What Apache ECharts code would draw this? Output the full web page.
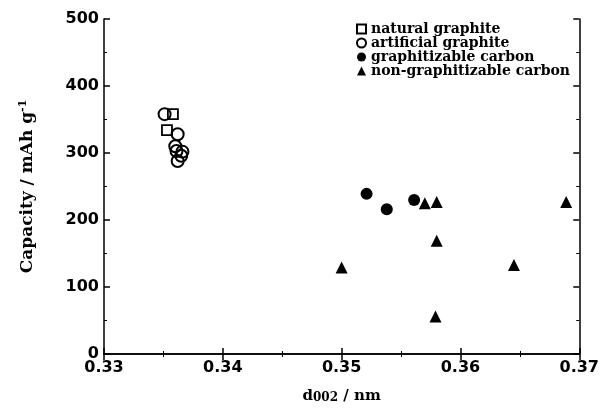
<!DOCTYPE html>
<html>
<head>
<meta charset="utf-8">
<script src="https://cdn.jsdelivr.net/npm/echarts@6/dist/echarts.min.js"></script>
<style>
  html, body { margin: 0; padding: 0; background: #fff; }
  #main { width: 602px; height: 410px; }
</style>
</head>
<body>
<div id="main"></div>
<script>
// d002 (nm) and capacity (mAh/g)
var naturalX = [0.3358, 0.3353];
var naturalY = [358, 334];
var artificialX = [0.3351, 0.3362, 0.3360, 0.3361, 0.3366, 0.3365, 0.3362];
var artificialY = [358, 328, 310, 303, 302, 296, 288];
var graphitizableX = [0.3521, 0.3538, 0.3561];
var graphitizableY = [239, 216, 230];
var nonGraphX = [0.3500, 0.3570, 0.3580, 0.3580, 0.3579, 0.3645, 0.3689];
var nonGraphY = [129, 225, 227, 169, 56, 133, 227];

var xTicks = [0.33, 0.34, 0.35, 0.36, 0.37];
var yTicks = [0, 100, 200, 300, 400, 500];

function pairs(xs, ys) {
    var out = [];
    xs.forEach(function (x, i) { out.push([x, ys[i]]); });
    return out;
}

var chart = echarts.init(document.getElementById('main'));
var labelFont = { fontFamily: 'DejaVu Sans', fontWeight: 'bold', fontSize: 16, color: '#000' };
var serif = 'DejaVu Serif';
var lineStyle = { color: '#000', width: 1.5 };
var minor = { show: true, splitNumber: 2, length: 3, lineStyle: { color: '#000', width: 1 } };

var option = {
    animation: false,
    backgroundColor: '#fff',
    grid: { left: 104, right: 22, top: 19, bottom: 56 },
    legend: {
        orient: 'vertical',
        left: 351,
        top: 17,
        itemWidth: 9,
        itemHeight: 9,
        itemGap: 0,
        textStyle: { fontFamily: serif, fontWeight: 'bold', fontSize: 14, color: '#000' },
        data: ['natural graphite', 'artificial graphite', 'graphitizable carbon', 'non-graphitizable carbon']
    },
    xAxis: [{
        type: 'value', min: 0.33, max: 0.37, interval: 0.01,
        name: 'd{s|002} / nm', nameLocation: 'middle', nameGap: 34,
        nameTextStyle: {
            fontFamily: serif, fontWeight: 'bold', fontSize: 15, color: '#000',
            rich: { s: { fontFamily: serif, fontWeight: 'bold', fontSize: 12, color: '#000', verticalAlign: 'bottom', padding: [4, 0, 0, 0] } }
        },
        axisLine: { lineStyle: lineStyle },
        axisTick: { inside: true, length: 6, lineStyle: lineStyle },
        minorTick: minor,
        splitLine: { show: false },
        axisLabel: Object.assign({ margin: 6, formatter: function (v) { return v.toFixed(2); } }, labelFont)
    }, {
        type: 'value', min: 0.33, max: 0.37, interval: 0.01, position: 'top',
        axisLine: { lineStyle: lineStyle },
        axisTick: { inside: true, length: 6, lineStyle: lineStyle },
        minorTick: minor,
        splitLine: { show: false },
        axisLabel: { show: false }
    }],
    yAxis: [{
        type: 'value', min: 0, max: 500, interval: 100,
        name: 'Capacity / mAh g{sup|-1}', nameLocation: 'middle', nameGap: 66,
        nameTextStyle: {
            fontFamily: serif, fontWeight: 'bold', fontSize: 17, color: '#000',
            rich: { sup: { fontFamily: serif, fontWeight: 'bold', fontSize: 11, color: '#000', verticalAlign: 'top', padding: [0, 0, 9, 0] } }
        },
        axisLine: { show: true, lineStyle: lineStyle },
        axisTick: { show: true, inside: true, length: 6, lineStyle: lineStyle },
        minorTick: minor,
        splitLine: { show: false },
        axisLabel: Object.assign({ margin: 5 }, labelFont)
    }, {
        type: 'value', min: 0, max: 500, interval: 100, position: 'right',
        axisLine: { show: true, lineStyle: lineStyle },
        axisTick: { show: true, inside: true, length: 6, lineStyle: lineStyle },
        minorTick: minor,
        splitLine: { show: false },
        axisLabel: { show: false }
    }],
    series: [
        {
            name: 'natural graphite', type: 'scatter', symbol: 'rect', symbolSize: 10,
            itemStyle: { color: '#fff', borderColor: '#000', borderWidth: 1.8, opacity: 1 },
            data: pairs(naturalX, naturalY)
        },
        {
            name: 'artificial graphite', type: 'scatter', symbol: 'circle', symbolSize: 12,
            itemStyle: { color: 'rgba(255,255,255,0)', borderColor: '#000', borderWidth: 2, opacity: 1 },
            data: pairs(artificialX, artificialY)
        },
        {
            name: 'graphitizable carbon', type: 'scatter', symbol: 'circle', symbolSize: 12,
            itemStyle: { color: '#000', opacity: 1 },
            data: pairs(graphitizableX, graphitizableY)
        },
        {
            name: 'non-graphitizable carbon', type: 'scatter', symbol: 'triangle', symbolSize: 12,
            itemStyle: { color: '#000', opacity: 1 },
            data: pairs(nonGraphX, nonGraphY)
        }
    ]
};

chart.setOption(option);
</script>
</body>
</html>
